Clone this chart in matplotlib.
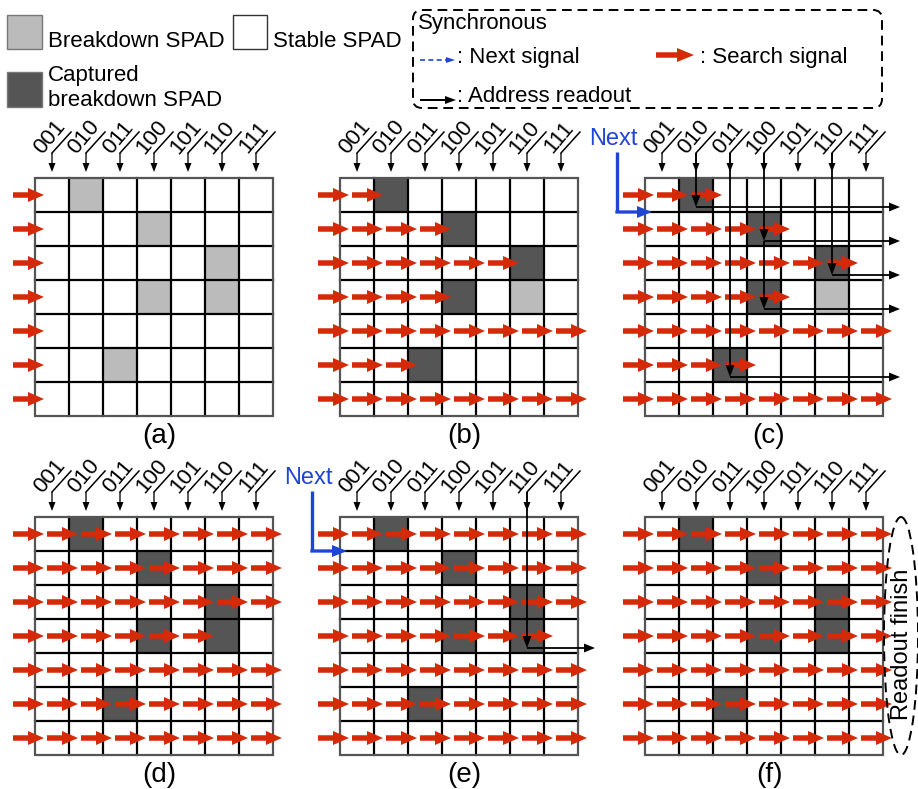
import matplotlib.pyplot as plt
from matplotlib.patches import Rectangle, FancyArrow, FancyBboxPatch, Ellipse

plt.rcParams['font.family'] = ['Liberation Sans', 'DejaVu Sans']

# ---- data ----
panel_names = ['(a)', '(b)', '(c)', '(d)', '(e)', '(f)']
panel_left = [35, 340, 645, 35, 340, 645]
panel_top = [178, 178, 178, 517, 517, 517]
col_labels = ['001', '010', '011', '100', '101', '110', '111']
n_rows = 7

all_spads = [(0, 1), (1, 3), (2, 5), (3, 3), (3, 5), (5, 2)]
# breakdown SPADs not yet captured (light gray), per panel
breakdown_cells = [all_spads, [(3, 5)], [(3, 5)], [], [], []]
# captured breakdown SPADs (dark gray), per panel
captured_cells = [
    [],
    [(0, 1), (1, 3), (2, 5), (3, 3), (5, 2)],
    [(0, 1), (1, 3), (2, 5), (3, 3), (5, 2)],
    all_spads,
    all_spads,
    all_spads,
]
# number of red search arrows in each row
search_counts = [
    [1, 1, 1, 1, 1, 1, 1],
    [2, 4, 6, 4, 8, 3, 8],
    [3, 5, 7, 5, 8, 4, 8],
    [8, 8, 8, 6, 8, 8, 8],
    [8, 8, 8, 7, 8, 8, 8],
    [8, 8, 8, 8, 8, 8, 8],
]
# address readout: panel -> (column, rows read out)
readouts = {2: [(1, [0]), (3, [1, 3]), (5, [2]), (2, [5])], 4: [(5, [3])]}
readout_end = {2: 900, 4: 595}
next_panels = [2, 4]

RED = '#d42a08'
BLUE = '#1f45d4'
LIGHT = '#bbbbbb'
DARK = '#555555'
CELL = 34

fig = plt.figure(figsize=(9.18, 7.89), dpi=100)
ax = fig.add_axes([0, 0, 1, 1])
ax.set_xlim(0, 918)
ax.set_ylim(789, 0)
ax.axis('off')


def arrow(x0, y0, x1, y1, color, w, hw, hl, z=4):
    ax.add_patch(FancyArrow(x0, y0, x1 - x0, y1 - y0, width=w, head_width=hw,
                            head_length=hl, length_includes_head=True,
                            color=color, lw=0, zorder=z))


# ---- legend (left) ----
ax.add_patch(Rectangle((7, 15), 35, 34, fc=LIGHT, ec='#777777', lw=1))
ax.text(48, 47, 'Breakdown SPAD', fontsize=16, va='baseline')
ax.add_patch(Rectangle((233, 15), 34, 34, fc='white', ec='#333333', lw=1))
ax.text(273, 47, 'Stable SPAD', fontsize=16, va='baseline')
ax.add_patch(Rectangle((7, 72), 35, 35, fc=DARK, ec='#777777', lw=1))
ax.text(48, 81, 'Captured', fontsize=16, va='baseline')
ax.text(48, 106, 'breakdown SPAD', fontsize=16, va='baseline')

# ---- legend (right, dashed box) ----
ax.add_patch(FancyBboxPatch((413, 10), 469, 98, boxstyle='round,pad=0,rounding_size=9',
                            fill=False, ec='black', lw=1.4, ls=(0, (5, 3))))
ax.text(418, 29, 'Synchronous', fontsize=16, va='baseline')
ax.plot([420, 447], [60, 60], color=BLUE, lw=1.2, ls=(0, (3, 2)))
arrow(446, 60, 455, 60, BLUE, 1.2, 6, 9)
ax.text(457, 63, ': Next signal', fontsize=16, va='baseline')
arrow(656, 55, 694, 55, RED, 5.5, 14, 17)
ax.text(700, 63, ': Search signal', fontsize=16, va='baseline')
arrow(420, 100, 456, 100, 'black', 2, 8, 11)
ax.text(457, 102, ': Address readout', fontsize=16, va='baseline')

# ---- panels ----
for p in range(6):
    left = panel_left[p]
    top = panel_top[p]
    size = CELL * n_rows

    for (r, c) in breakdown_cells[p]:
        ax.add_patch(Rectangle((left + c * CELL, top + r * CELL), CELL, CELL,
                               fc=LIGHT, ec='none', zorder=1))
    for (r, c) in captured_cells[p]:
        ax.add_patch(Rectangle((left + c * CELL, top + r * CELL), CELL, CELL,
                               fc=DARK, ec='none', zorder=1))
    for k in range(1, n_rows):
        ax.plot([left + k * CELL] * 2, [top, top + size], color='black', lw=1.6, zorder=2)
        ax.plot([left, left + size], [top + k * CELL] * 2, color='black', lw=1.6, zorder=2)
    ax.add_patch(Rectangle((left, top), size, size, fill=False, ec='#555555', lw=1.6, zorder=2))

    # column address labels
    for c, lab in enumerate(col_labels):
        xc = left + c * CELL + CELL / 2
        ax.plot([xc, xc + 19], [top - 25, top - 46], color='black', lw=1.1)
        ax.text(xc - 2, top - 40.5, lab, fontsize=16, rotation=50,
                rotation_mode='anchor', ha='center', va='center')
        arrow(xc, top - 25, xc, top - 6, 'black', 1.3, 7, 9)

    # red search arrows
    for r in range(n_rows):
        yc = top + r * CELL + CELL / 2
        for k in range(search_counts[p][r]):
            x1 = left + 9 + k * CELL
            arrow(x1 - 31, yc, x1, yc, RED, 5.5, 14, 16, z=3)

    # address readout
    if p in readouts:
        for c, rows in readouts[p]:
            xc = left + c * CELL + CELL / 2
            y0 = top - 25
            for r in rows:
                yh = top + (r + 1) * CELL - 5
                arrow(xc, y0, xc, yh, 'black', 1.8, 9, 12, z=5)
                arrow(xc, yh, readout_end[p], yh, 'black', 1.8, 9, 11, z=5)
                y0 = yh

    # next signal
    if p in next_panels:
        ax.text(left - 56, top - 33, 'Next', fontsize=17, color=BLUE, va='baseline')
        ax.plot([left - 28, left - 28], [top - 26, top + 34], color=BLUE, lw=2.4,
                solid_capstyle='butt', zorder=4)
        arrow(left - 29.6, top + 34, left + 7, top + 34, BLUE, 3.3, 12, 15, z=4)

    ax.text(left + 124, top + 265, panel_names[p], fontsize=20, ha='center', va='baseline')

# readout finish
ax.add_patch(Ellipse((901, 636), 34, 238, fill=False, ec='black', lw=1.4,
                     ls=(0, (5, 3)), zorder=5))
ax.text(902, 644, 'Readout finish', fontsize=17, rotation=90, ha='center', va='center')

fig.savefig('out.png', dpi=100)
